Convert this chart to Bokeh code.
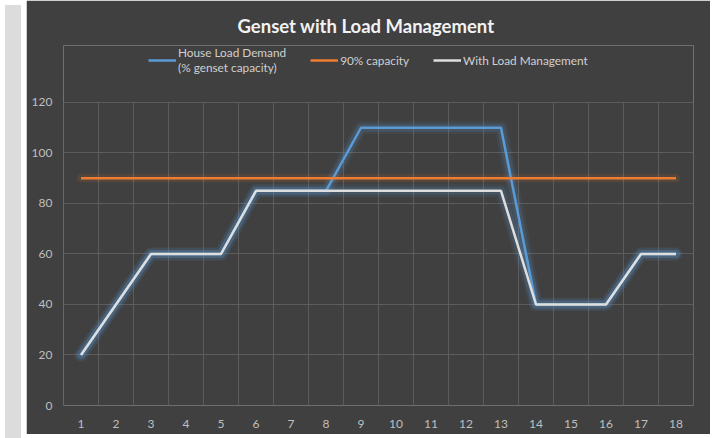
from bokeh.plotting import figure
from bokeh.models import Range1d, FixedTicker, Legend, LegendItem, Div
from bokeh.layouts import row
from bokeh.embed import file_html
from bokeh.resources import INLINE

# ---- data ----
hours = list(range(1, 19))
house_load = [20, 40, 60, 60, 60, 85, 85, 85, 110, 110, 110, 110, 110, 40, 40, 40, 60, 60]
capacity_90 = [90] * 18
with_mgmt = [20, 40, 60, 60, 60, 85, 85, 85, 85, 85, 85, 85, 85, 40, 40, 40, 60, 60]
y_ticks = [0, 20, 40, 60, 80, 100, 120]

BG = "#404040"
FONT = "Lato"
BLUE = "#5b9bd5"
ORANGE = "#ed7d31"
GRAY = "#dedede"
GRID = "#5c5c5c"

# frame extends above 120 to host the legend (grid limited to 0..120)
p = figure(width=684, height=434, output_backend="svg", toolbar_location=None,
           x_range=Range1d(0.5, 18.5), y_range=Range1d(0, 142.57),
           title="Genset with Load Management")
p.background_fill_color = BG
p.border_fill_color = BG
p.outline_line_color = None
p.min_border_left = 37
p.min_border_right = 17
p.min_border_bottom = 29
p.min_border_top = 45

p.title.align = "left"
p.title.text_font = FONT
p.title.text_font_size = "18.5px"
p.title.text_font_style = "bold"
p.title.text_color = "#f2f2f2"
p.title.offset = 174
p.title.standoff = 17

# grids: horizontal from the axis ticker, vertical category boundaries limited to 0..120
p.xgrid.visible = False
p.ygrid.ticker = FixedTicker(ticks=y_ticks)
p.ygrid.grid_line_color = GRID
bounds = [h - 0.5 for h in hours] + [hours[-1] + 0.5]
p.segment(x0=bounds, y0=[y_ticks[0]] * len(bounds), x1=bounds, y1=[y_ticks[-1]] * len(bounds),
          line_color=GRID, line_width=1)

for ax in (p.xaxis, p.yaxis):
    ax.axis_line_color = None
    ax.major_tick_line_color = None
    ax.minor_tick_line_color = None
    ax.major_tick_out = 0
    ax.major_tick_in = 0
    ax.minor_tick_out = 0
    ax.major_label_text_color = "#bfbfbf"
    ax.major_label_text_font = FONT
    ax.major_label_text_font_size = "12px"
p.xaxis.major_label_standoff = 14
p.yaxis.major_label_standoff = 11
p.xaxis.ticker = FixedTicker(ticks=hours)
p.yaxis.ticker = FixedTicker(ticks=y_ticks)

# glows
for w, a in ((13, 0.08), (8, 0.16)):
    p.line(hours, house_load, line_color=BLUE, line_width=w, line_alpha=a, line_join="round", line_cap="round")
    p.line(hours, with_mgmt, line_color=BLUE, line_width=w, line_alpha=a, line_join="round", line_cap="round")
p.line(hours, capacity_90, line_color=ORANGE, line_width=8, line_alpha=0.12, line_cap="round")

r1 = p.line(hours, house_load, line_color=BLUE, line_width=2.5)
r2 = p.line(hours, capacity_90, line_color=ORANGE, line_width=2.5)
r3 = p.line(hours, with_mgmt, line_color=GRAY, line_width=2.5)

legend = Legend(items=[
    LegendItem(label="House Load Demand\n(% genset capacity)", renderers=[r1]),
    LegendItem(label="90% capacity", renderers=[r2]),
    LegendItem(label="With Load Management", renderers=[r3]),
], orientation="horizontal", location=(85, 330))
legend.background_fill_alpha = 0
legend.border_line_color = None
legend.label_text_color = "#d0d0d0"
legend.label_text_font = FONT
legend.label_text_font_size = "11.8px"
legend.glyph_width = 28
legend.label_standoff = 2
legend.spacing = 24
legend.padding = 4
legend.margin = 0
p.add_layout(legend, "center")

strip = Div(width=16, height=434, styles={"background-color": "#dcdcdc"})
layout = row(strip, p, spacing=0)

open("out.html", "w").write(file_html(layout, INLINE))
